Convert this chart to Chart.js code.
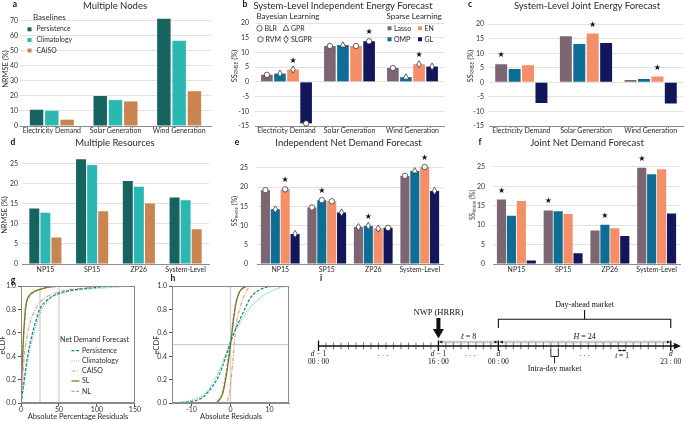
<!DOCTYPE html>
<html><head><meta charset="utf-8">
<script src="https://cdn.jsdelivr.net/npm/chart.js@4.4.1/dist/chart.umd.min.js"></script>
<style>
body{margin:0;width:685px;height:421px;background:#fff;position:relative;overflow:hidden;font-family:Lato,sans-serif;}
canvas{position:absolute;}
.t{position:absolute;white-space:nowrap;color:#2a2a2a;line-height:1;}
.t sub{font-size:62%;vertical-align:-0.25em;}
</style></head><body>
<script>
// ================= DATA =================
const energyCategories = ['Electricity Demand', 'Solar Generation', 'Wind Generation'];
const resourceCategories = ['NP15', 'SP15', 'ZP26', 'System-Level'];
const baselineNames = ['Persistence', 'Climatology', 'CAISO'];
const learnerNames = ['Lasso', 'OMP', 'EN', 'GL'];
const bayesNames = ['BLR', 'GPR', 'RVM', 'SLGPR'];
const bayesMarks = ['circle', 'triangle', 'hexagon', 'diamond'];

// a  Multiple Nodes (NRMSE %)
const nodesPersistence = [10.8, 19.9, 71.2];
const nodesClimatology = [10.1, 17.2, 56.6];
const nodesCAISO = [4.2, 16.3, 23.1];

// b  System-Level Independent Energy Forecast (SS %)
const indepEnergyLasso = [2.4, 12.2, 4.7];
const indepEnergyOMP = [2.8, 12.5, 1.6];
const indepEnergyEN = [4.2, 12.2, 6.0];
const indepEnergyGL = [-14.1, 13.8, 5.2];
const indepEnergyBest = [2, 3, 2];
const indepEnergyMarkLasso = ['circle', 'circle', 'circle'];
const indepEnergyMarkOMP = ['diamond', 'triangle', 'triangle'];
const indepEnergyMarkEN = ['diamond', 'circle', 'diamond'];
const indepEnergyMarkGL = ['circle', 'circle', 'diamond'];

// c  System-Level Joint Energy Forecast
const jointEnergyLasso = [6.2, 15.9, 0.8];
const jointEnergyOMP = [4.6, 13.2, 1.2];
const jointEnergyEN = [5.9, 16.8, 2.0];
const jointEnergyGL = [-7.1, 13.5, -7.3];
const jointEnergyBest = [0, 2, 2];

// d  Multiple Resources (NRMSE %)
const resPersistence = [13.8, 26.0, 20.6, 16.5];
const resClimatology = [12.7, 24.6, 19.2, 15.8];
const resCAISO = [6.6, 13.1, 15.0, 8.6];

// e  Independent Net Demand Forecast
const indepNetLasso = [19.2, 14.7, 9.6, 22.9];
const indepNetOMP = [14.2, 16.6, 9.9, 24.2];
const indepNetEN = [19.4, 16.3, 9.2, 25.2];
const indepNetGL = [7.8, 13.4, 9.4, 19.0];
const indepNetBest = [2, 1, 1, 2];
const indepNetMarkLasso = ['circle', 'circle', 'diamond', 'circle'];
const indepNetMarkOMP = ['diamond', 'circle', 'diamond', 'triangle'];
const indepNetMarkEN = ['circle', 'circle', 'diamond', 'circle'];
const indepNetMarkGL = ['diamond', 'diamond', 'circle', 'diamond'];

// f  Joint Net Demand Forecast
const jointNetLasso = [16.6, 13.8, 8.6, 24.8];
const jointNetOMP = [12.4, 13.6, 10.1, 23.1];
const jointNetEN = [16.2, 12.9, 9.2, 24.4];
const jointNetGL = [0.9, 2.8, 7.2, 13.0];
const jointNetBest = [0, 0, 1, 0];

// g  eCDF of absolute percentage residuals
const gTicksX = [0, 50, 100, 150];
const gPersistenceX = [0, 1, 2.2, 4.3, 6.3, 8.7, 11.5, 15.2, 19.5, 24.3, 31, 38, 46, 55.6, 70, 86, 100, 116, 150];
const gPersistenceY = [0, 0.04, 0.1, 0.2, 0.3, 0.4, 0.5, 0.6, 0.7, 0.8, 0.86, 0.9, 0.93, 0.95, 0.97, 0.98, 0.99, 1.0, 1.0];
const gClimatologyX = [0, 1.2, 2.6, 5, 7.3, 10, 13.2, 17, 21.5, 27, 34, 40, 49, 60, 78, 99, 120, 147, 150];
const gClimatologyY = [0, 0.04, 0.1, 0.2, 0.3, 0.4, 0.5, 0.6, 0.7, 0.8, 0.86, 0.9, 0.93, 0.95, 0.97, 0.98, 0.99, 1.0, 1.0];
const gCAISOX = [0, 0.6, 1.2, 2.2, 3.2, 4.3, 6.2, 8.7, 12.5, 18.7, 25, 31.7, 40, 49, 62, 77, 92, 110, 150];
const gCAISOY = [0, 0.05, 0.11, 0.2, 0.3, 0.4, 0.5, 0.6, 0.7, 0.8, 0.86, 0.9, 0.93, 0.95, 0.97, 0.98, 0.99, 1.0, 1.0];
const gSLX = [0, 0.4, 0.9, 1.5, 2.2, 2.8, 3.5, 4.5, 5.7, 7, 9, 12, 16.5, 24, 34, 60, 150];
const gSLY = [0, 0.1, 0.2, 0.3, 0.4, 0.5, 0.6, 0.7, 0.8, 0.86, 0.9, 0.93, 0.95, 0.97, 0.99, 1.0, 1.0];
const gNLX = [0, 0.45, 1.0, 1.7, 2.4, 3.1, 3.9, 5, 6.3, 7.8, 10, 13, 17.5, 25, 36, 65, 150];
const gNLY = [0, 0.1, 0.2, 0.3, 0.4, 0.5, 0.6, 0.7, 0.8, 0.86, 0.9, 0.93, 0.95, 0.97, 0.99, 1.0, 1.0];
const gRefLines = [25, 50];

// h  eCDF of absolute residuals
const hTicksX = [-10, 0, 10];
const hPersistenceX = [-15, -12, -9, -7, -5.6, -3.5, -2.2, -1.2, -0.2, 0.9, 2.2, 3.6, 5.1, 7, 9.7, 12, 15];
const hPersistenceY = [0, 0.005, 0.02, 0.05, 0.1, 0.2, 0.3, 0.4, 0.5, 0.6, 0.7, 0.8, 0.9, 0.96, 0.995, 1, 1];
const hClimatologyX = [-15, -12, -9.5, -7.3, -5.5, -4.1, -2.6, -1.4, -0.3, 1, 2.7, 4.6, 7.6, 10, 13.5, 15];
const hClimatologyY = [0, 0.01, 0.03, 0.06, 0.12, 0.2, 0.3, 0.4, 0.5, 0.6, 0.7, 0.8, 0.9, 0.95, 0.995, 1];
const hCAISOX = [-15, -1.5, -0.8, -0.2, 0.3, 0.7, 1.1, 1.6, 2.5, 3.5, 4.5, 6, 15];
const hCAISOY = [0, 0, 0.02, 0.1, 0.25, 0.4, 0.55, 0.7, 0.82, 0.92, 0.98, 1, 1];
const hSLX = [-15, -4, -3, -2, -1, -0.3, 0.2, 0.8, 1.5, 2.3, 3.5, 5, 15];
const hSLY = [0, 0, 0.02, 0.08, 0.25, 0.42, 0.55, 0.72, 0.87, 0.95, 0.99, 1, 1];
const hNLX = [-15, -4.2, -3.2, -2.2, -1.2, -0.5, 0, 0.6, 1.3, 2.1, 3.3, 5, 15];
const hNLY = [0, 0, 0.02, 0.08, 0.25, 0.42, 0.52, 0.7, 0.85, 0.94, 0.99, 1, 1];
const hRefX = 0;
const hRefY = 0.5;

// i  timeline (hours relative to day d 00:00)
const tlHours = [-24,-23,-22,-21,-20,-19,-18,-17,-16,-15,-14,-13,-12,-11,-10,-9,-8,-7,-6,-5,-4,-3,-2,-1,0,1,2,3,4,5,6,7,8,9,10,11,12,13,14,15,16,17,18,19,20,21,22,23];
const tlMajorHours = [-24, -8, 0, 23];
const tlMajorDay = [['d', ' − 1'], ['d', ' − 1'], ['d', ''], ['d', '']];
const tlMajorClock = ['00 : 00', '16 : 00', '00 : 00', '23 : 00'];
const tlDotHours = [-15.4, -3.8, 11.5];

// ================= STYLE =================
const C = {
  Persistence: '#16635f', Climatology: '#2cb8b2', CAISO: '#c9844f',
  Lasso: '#7c6671', OMP: '#0d6d94', EN: '#f48f68', GL: '#11175a'
};
const LC = { Persistence: '#1d7f7a', Climatology: '#4dcfcf', CAISO: '#eb9e78', SL: '#7b7a1c', NL: '#a9a9a9' };
const FONT = 'Lato';
const SERIF = '"Liberation Serif", "DejaVu Serif", serif';

function T(html, x, y, o = {}) {
  const d = document.createElement('div');
  d.className = 't'; d.innerHTML = html;
  d.style.left = x + 'px'; d.style.top = y + 'px';
  d.style.fontSize = (o.size || 8) + 'px';
  if (o.weight) d.style.fontWeight = o.weight;
  if (o.color) d.style.color = o.color;
  const ax = o.anchor === 'l' ? '0' : '-50%';
  d.style.transform = `translate(${ax},-50%)` + (o.rot ? ` rotate(${o.rot}deg)` : '');
  document.body.appendChild(d);
}

function makeCanvas(L, Tp, W, H) {
  const c = document.createElement('canvas');
  c.width = W; c.height = H;
  c.style.left = L + 'px'; c.style.top = Tp + 'px';
  c.style.width = W + 'px'; c.style.height = H + 'px';
  document.body.appendChild(c);
  return c;
}

function drawMarker(ctx, type, x, y) {
  ctx.save();
  ctx.fillStyle = '#ffffff'; ctx.strokeStyle = '#3a3a3a'; ctx.lineWidth = 0.8;
  ctx.beginPath();
  if (type === 'circle') ctx.arc(x, y, 2.7, 0, Math.PI * 2);
  else if (type === 'triangle') { ctx.moveTo(x, y - 3.3); ctx.lineTo(x + 3, y + 2); ctx.lineTo(x - 3, y + 2); ctx.closePath(); }
  else if (type === 'diamond') { ctx.moveTo(x, y - 3.6); ctx.lineTo(x + 2.2, y); ctx.lineTo(x, y + 3.6); ctx.lineTo(x - 2.2, y); ctx.closePath(); }
  else if (type === 'hexagon') { for (let k = 0; k < 6; k++) { const a = Math.PI / 6 + k * Math.PI / 3; const px = x + 2.9 * Math.cos(a), py = y + 2.9 * Math.sin(a); k ? ctx.lineTo(px, py) : ctx.moveTo(px, py); } ctx.closePath(); }
  ctx.fill(); ctx.stroke(); ctx.restore();
}

function legendText(ctx, text, x, y, size, align) {
  ctx.font = `${size}px ${FONT}`; ctx.fillStyle = '#2a2a2a';
  ctx.textAlign = align || 'left'; ctx.textBaseline = 'middle';
  ctx.fillText(text, x, y);
}

function barChart(cfg) {
  const { plot, yW, xH, pad } = cfg;
  const L = Math.round(plot.l - yW - pad), Tp = Math.round(plot.t - pad);
  const W = Math.round(plot.r - plot.l + yW + 2 * pad), H = Math.round(plot.b - plot.t + xH + 2 * pad);
  const cv = makeCanvas(L, Tp, W, H);
  const overlay = {
    id: 'overlay',
    afterDatasetsDraw(chart) {
      const ctx = chart.ctx;
      chart.data.datasets.forEach((ds, di) => {
        if (!ds.marks) return;
        chart.getDatasetMeta(di).data.forEach((bar, i) => drawMarker(ctx, ds.marks[i], bar.x, bar.y));
      });
      if (cfg.best) {
        ctx.save();
        ctx.fillStyle = '#111'; ctx.font = '8px "DejaVu Sans"'; ctx.textAlign = 'center'; ctx.textBaseline = 'middle';
        cfg.best.forEach((di, i) => {
          const bar = chart.getDatasetMeta(di).data[i];
          const top = Math.min(bar.y, bar.base);
          ctx.fillText('★', bar.x, top - 9);
        });
        ctx.restore();
      }
      const xs = chart.scales.x;
      ctx.save();
      chart.data.labels.forEach((lab, i) => legendText(ctx, lab, xs.getPixelForValue(i), cfg.labelY - Tp, cfg.xFont || 7, 'center'));
      ctx.restore();
      if (cfg.legend) cfg.legend(ctx, (x) => x - L, (y) => y - Tp);
    }
  };
  new Chart(cv, {
    type: 'bar',
    data: {
      labels: cfg.labels,
      datasets: cfg.series.map(s => ({
        label: s.name, data: s.data, backgroundColor: C[s.name], borderWidth: 0,
        categoryPercentage: cfg.catPct, barPercentage: cfg.barPct, marks: s.marks
      }))
    },
    options: {
      responsive: false, animation: false, devicePixelRatio: 1,
      layout: { padding: pad },
      plugins: { legend: { display: false }, tooltip: { enabled: false } },
      scales: {
        x: {
          grid: { display: false, drawTicks: false },
          border: { display: true, color: '#8c8c8c', width: 1 },
          ticks: { display: false },
          afterFit: s => { s.height = xH; }
        },
        y: {
          min: cfg.min, max: cfg.max,
          grid: { color: '#e2e2e2', lineWidth: 1, drawTicks: false },
          border: { display: false },
          ticks: { stepSize: cfg.step, includeBounds: false, font: { family: FONT, size: 7 }, color: '#333', padding: cfg.yPad },
          afterFit: s => { s.width = yW; }
        }
      }
    },
    plugins: [overlay]
  });
}

// ---------- a ----------
barChart({
  plot: { l: 20, r: 211, t: 13, b: 126 }, yW: 18, xH: 14, pad: 8, yPad: 2, labelY: 131,
  labels: energyCategories, min: 0, max: 75, step: 10, catPct: 0.72, barPct: 0.88,
  series: [
    { name: 'Persistence', data: nodesPersistence },
    { name: 'Climatology', data: nodesClimatology },
    { name: 'CAISO', data: nodesCAISO }
  ],
  legend: (ctx, X, Y) => {
    legendText(ctx, 'Baselines', X(33), Y(17), 8);
    const ys = [29.3, 40, 50.5];
    baselineNames.forEach((n, i) => {
      ctx.fillStyle = C[n]; ctx.fillRect(X(27.5), Y(ys[i]) - 2, 4, 4);
      legendText(ctx, n, X(36.5), Y(ys[i]), 6.8);
    });
  }
});

// ---------- b ----------
barChart({
  plot: { l: 255, r: 444, t: 23, b: 126 }, yW: 20, xH: 14, pad: 14, yPad: 6, labelY: 131,
  labels: energyCategories, min: -15, max: 20, step: 5, catPct: 0.83, barPct: 0.89,
  series: [
    { name: 'Lasso', data: indepEnergyLasso, marks: indepEnergyMarkLasso },
    { name: 'OMP', data: indepEnergyOMP, marks: indepEnergyMarkOMP },
    { name: 'EN', data: indepEnergyEN, marks: indepEnergyMarkEN },
    { name: 'GL', data: indepEnergyGL, marks: indepEnergyMarkGL }
  ],
  best: indepEnergyBest,
  legend: (ctx, X, Y) => {
    legendText(ctx, 'Bayesian Learning', X(256.5), Y(16.7), 8);
    legendText(ctx, 'Sparse Learning', X(386.5), Y(16.7), 8);
    const pos = [[259.5, 28.3], [286, 28.3], [260.5, 39.3], [286, 39.3]];
    bayesNames.forEach((n, i) => {
      drawMarker(ctx, bayesMarks[i], X(pos[i][0]), Y(pos[i][1]));
      legendText(ctx, n, X(pos[i][0] + 5), Y(pos[i][1]), 7);
    });
    const sp = [[389.5, 28.3], [389.5, 39.3], [420, 28.3], [420, 39.3]];
    learnerNames.forEach((n, i) => {
      ctx.fillStyle = C[n]; ctx.fillRect(X(sp[i][0]) - 2, Y(sp[i][1]) - 2, 4, 4);
      legendText(ctx, n, X(sp[i][0] + 4.5), Y(sp[i][1]), 7);
    });
  }
});

// ---------- c ----------
barChart({
  plot: { l: 489, r: 683, t: 23, b: 126 }, yW: 20, xH: 14, pad: 8, yPad: 5, labelY: 131,
  labels: energyCategories, min: -15, max: 20, step: 5, catPct: 0.83, barPct: 0.89,
  series: [
    { name: 'Lasso', data: jointEnergyLasso },
    { name: 'OMP', data: jointEnergyOMP },
    { name: 'EN', data: jointEnergyEN },
    { name: 'GL', data: jointEnergyGL }
  ],
  best: jointEnergyBest
});

// ---------- d ----------
barChart({
  plot: { l: 22, r: 209, t: 153, b: 264 }, yW: 18, xH: 14, pad: 8, yPad: 4, labelY: 269.5,
  labels: resourceCategories, min: 0, max: 27.5, step: 5, catPct: 0.71, barPct: 0.9,
  series: [
    { name: 'Persistence', data: resPersistence },
    { name: 'Climatology', data: resClimatology },
    { name: 'CAISO', data: resCAISO }
  ]
});

// ---------- e ----------
barChart({
  plot: { l: 257, r: 443, t: 153, b: 264 }, yW: 20, xH: 14, pad: 8, yPad: 9, labelY: 269.5,
  labels: resourceCategories, min: 0, max: 27.5, step: 5, catPct: 0.85, barPct: 0.92,
  series: [
    { name: 'Lasso', data: indepNetLasso, marks: indepNetMarkLasso },
    { name: 'OMP', data: indepNetOMP, marks: indepNetMarkOMP },
    { name: 'EN', data: indepNetEN, marks: indepNetMarkEN },
    { name: 'GL', data: indepNetGL, marks: indepNetMarkGL }
  ],
  best: indepNetBest
});

// ---------- f ----------
barChart({
  plot: { l: 493, r: 680, t: 153, b: 264 }, yW: 20, xH: 14, pad: 8, yPad: 8, labelY: 269.5,
  labels: resourceCategories, min: 0, max: 27.5, step: 5, catPct: 0.85, barPct: 0.92,
  series: [
    { name: 'Lasso', data: jointNetLasso },
    { name: 'OMP', data: jointNetOMP },
    { name: 'EN', data: jointNetEN },
    { name: 'GL', data: jointNetGL }
  ],
  best: jointNetBest
});

// ---------- g / h eCDF ----------
function curve(label, xs, ys, color, dash, width) {
  return {
    label, data: xs.map((x, i) => ({ x, y: ys[i] })), borderColor: color, borderDash: dash,
    borderWidth: width, showLine: true, pointRadius: 0, fill: false, cubicInterpolationMode: 'monotone'
  };
}
function refLine(pts) {
  return { label: 'ref', ref: true, data: pts, borderColor: '#cfcfcf', borderWidth: 1.3, showLine: true, pointRadius: 0, fill: false, tension: 0 };
}
function ecdfChart(cfg) {
  const { plot, yW, xH, pad } = cfg;
  const L = Math.round(plot.l - yW - pad), Tp = Math.round(plot.t - pad);
  const W = Math.round(plot.r - plot.l + yW + 2 * pad), H = Math.round(plot.b - plot.t + xH + 2 * pad);
  const cv = makeCanvas(L, Tp, W, H);
  const overlay = {
    id: 'ecdfOverlay',
    afterDatasetsDraw(chart) {
      const ctx = chart.ctx, a = chart.chartArea;
      ctx.save();
      ctx.strokeStyle = '#8a8a8a'; ctx.lineWidth = 1;
      ctx.strokeRect(Math.round(a.left) + 0.5, Math.round(a.top) + 0.5, Math.round(a.right - a.left) - 1, Math.round(a.bottom - a.top) - 1);
      if (cfg.legend) {
        const X = x => x - L, Y = y => y - Tp;
        legendText(ctx, 'Net Demand Forecast', X(94.5), Y(340), 7.2, 'center');
        const ys = [350.7, 361, 371, 381, 391.3];
        chart.data.datasets.filter(d => !d.ref).forEach((d, i) => {
          ctx.beginPath(); ctx.strokeStyle = d.borderColor; ctx.lineWidth = d.borderWidth;
          ctx.setLineDash(d.borderDash || []);
          ctx.moveTo(X(71.5), Y(ys[i])); ctx.lineTo(X(79.5), Y(ys[i])); ctx.stroke();
          ctx.setLineDash([]);
          legendText(ctx, d.label, X(82), Y(ys[i]), 7);
        });
      }
      ctx.restore();
    }
  };
  new Chart(cv, {
    type: 'scatter',
    data: { datasets: cfg.datasets },
    options: {
      responsive: false, animation: false, devicePixelRatio: 1,
      layout: { padding: pad },
      plugins: { legend: { display: false }, tooltip: { enabled: false } },
      scales: {
        x: {
          type: 'linear', min: cfg.xmin, max: cfg.xmax,
          grid: { drawOnChartArea: false, tickLength: 3, color: '#555' },
          border: { display: true, color: '#8a8a8a' },
          ticks: { font: { family: FONT, size: 7 }, color: '#333', padding: 0 },
          afterBuildTicks: s => { s.ticks = cfg.xticks.map(v => ({ value: v })); },
          afterFit: s => { s.height = xH; }
        },
        y: {
          min: 0, max: 1,
          grid: { drawOnChartArea: false, tickLength: 3, color: '#555' },
          border: { display: true, color: '#8a8a8a' },
          ticks: { stepSize: 0.2, font: { family: FONT, size: 7 }, color: '#333', padding: cfg.yPad, callback: v => v.toFixed(1) },
          afterFit: s => { s.width = yW; }
        }
      }
    },
    plugins: [overlay]
  });
}

ecdfChart({
  plot: { l: 21, r: 135, t: 286, b: 403 }, yW: 16, xH: 10, pad: 6, yPad: 2,
  xmin: 0, xmax: 150, xticks: gTicksX, legend: true,
  datasets: [
    curve('Persistence', gPersistenceX, gPersistenceY, LC.Persistence, [3, 1.6], 1.2),
    curve('Climatology', gClimatologyX, gClimatologyY, LC.Climatology, [1, 1.3], 1.2),
    curve('CAISO', gCAISOX, gCAISOY, LC.CAISO, [4, 1.5, 1, 1.5], 1.2),
    curve('SL', gSLX, gSLY, LC.SL, [], 1.3),
    curve('NL', gNLX, gNLY, LC.NL, [3, 1.6], 1.2),
    refLine([{ x: gRefLines[0], y: 0 }, { x: gRefLines[0], y: 1 }]),
    refLine([{ x: gRefLines[1], y: 0 }, { x: gRefLines[1], y: 1 }])
  ]
});

ecdfChart({
  plot: { l: 172, r: 288.5, t: 286, b: 403 }, yW: 16, xH: 10, pad: 6, yPad: 2,
  xmin: -15, xmax: 15, xticks: hTicksX, legend: false,
  datasets: [
    curve('Persistence', hPersistenceX, hPersistenceY, LC.Persistence, [3, 1.6], 1.2),
    curve('Climatology', hClimatologyX, hClimatologyY, LC.Climatology, [1, 1.3], 1.2),
    curve('CAISO', hCAISOX, hCAISOY, LC.CAISO, [4, 1.5, 1, 1.5], 1.2),
    curve('SL', hSLX, hSLY, LC.SL, [], 1.3),
    curve('NL', hNLX, hNLY, LC.NL, [3, 1.6], 1.2),
    refLine([{ x: hRefX, y: 0 }, { x: hRefX, y: 1 }]),
    refLine([{ x: -15, y: hRefY }, { x: 15, y: hRefY }])
  ]
});

// ---------- i timeline ----------
(function () {
  const L = 300, Tp = 295, W = 385, H = 85;
  const cv = makeCanvas(L, Tp, W, H);
  function rich(ctx, parts, cx, cy, size) {
    let w = 0;
    parts.forEach(p => { ctx.font = `${p[1] ? 'italic ' : ''}${size}px ${SERIF}`; w += ctx.measureText(p[0]).width; });
    let x = cx - w / 2;
    ctx.textBaseline = 'middle'; ctx.textAlign = 'left'; ctx.fillStyle = '#111';
    parts.forEach(p => { ctx.font = `${p[1] ? 'italic ' : ''}${size}px ${SERIF}`; ctx.fillText(p[0], x, cy); x += ctx.measureText(p[0]).width; });
  }
  function head(ctx, x, y, dir, len, hw) {
    ctx.beginPath(); ctx.moveTo(x, y); ctx.lineTo(x - dir * len, y - hw); ctx.lineTo(x - dir * len, y + hw); ctx.closePath(); ctx.fill();
  }
  const tl = {
    id: 'timeline',
    afterDraw(chart) {
      const ctx = chart.ctx;
      const X = v => chart.scales.x.getPixelForValue(v), Y = v => chart.scales.y.getPixelForValue(v);
      ctx.save();
      ctx.strokeStyle = '#c9c9c9'; ctx.lineWidth = 2.6;
      ctx.beginPath(); ctx.moveTo(X(-8), Y(342)); ctx.lineTo(X(23), Y(342)); ctx.stroke();
      ctx.strokeStyle = '#555'; ctx.lineWidth = 0.8;
      tlHours.forEach(h => { ctx.beginPath(); ctx.moveTo(X(h), Y(342.5)); ctx.lineTo(X(h), Y(349.5)); ctx.stroke(); });
      ctx.strokeStyle = '#111'; ctx.fillStyle = '#111'; ctx.lineWidth = 1.6;
      ctx.beginPath(); ctx.moveTo(X(-24), Y(346)); ctx.lineTo(X(23.6), Y(346)); ctx.stroke();
      head(ctx, X(24.35), Y(346), 1, 7, 3.2);
      ctx.lineWidth = 1.3;
      tlMajorHours.forEach((h, i) => {
        ctx.beginPath(); ctx.moveTo(X(h), Y(340.5)); ctx.lineTo(X(h), Y(351)); ctx.stroke();
        rich(ctx, [[tlMajorDay[i][0], true], [tlMajorDay[i][1], false]], X(h), Y(354), 7.5);
        rich(ctx, [[tlMajorClock[i], false]], X(h), Y(362.3), 7.5);
      });
      tlDotHours.forEach(h => rich(ctx, [['· · ·', false]], X(h), Y(356.5), 7.5));
      ctx.fillStyle = '#111';
      head(ctx, X(-8) + 0.8, Y(342), -1, 3, 1.6); head(ctx, X(0) - 0.8, Y(342), 1, 3, 1.6);
      head(ctx, X(0) + 1.5, Y(342), -1, 3, 1.6); head(ctx, X(23) - 0.8, Y(342), 1, 3, 1.6);
      rich(ctx, [['ℓ', true], [' = 8', false]], X(-4), Y(336.5), 8);
      rich(ctx, [['H', true], [' = 24', false]], X(11.5), Y(336.5), 8);
      rich(ctx, [['NWP (HRRR)', false]], X(-8), Y(312.5), 8.5);
      ctx.fillRect(X(-8) - 2, Y(318), 4, Y(330) - Y(318));
      ctx.beginPath(); ctx.moveTo(X(-8) - 5.5, Y(329)); ctx.lineTo(X(-8) + 5.5, Y(329)); ctx.lineTo(X(-8), Y(338.5)); ctx.closePath(); ctx.fill();
      ctx.lineWidth = 1.1; ctx.strokeStyle = '#111';
      ctx.beginPath(); ctx.moveTo(X(0), Y(328)); ctx.lineTo(X(0), Y(319.3)); ctx.lineTo(X(23), Y(319.3)); ctx.lineTo(X(23), Y(328)); ctx.stroke();
      ctx.beginPath(); ctx.moveTo(X(11.5), Y(319.3)); ctx.lineTo(X(11.5), Y(310)); ctx.stroke();
      rich(ctx, [['Day-ahead market', false]], X(11.5), Y(304.5), 8);
      ctx.lineWidth = 0.9;
      ctx.beginPath(); ctx.moveTo(X(7), Y(349)); ctx.lineTo(X(7), Y(356.5)); ctx.lineTo(X(8), Y(356.5)); ctx.lineTo(X(8), Y(349)); ctx.stroke();
      ctx.beginPath(); ctx.moveTo(X(7.5), Y(356.5)); ctx.lineTo(X(7.5), Y(363.5)); ctx.stroke();
      rich(ctx, [['Intra-day market', false]], X(7.5), Y(369), 8);
      ctx.lineWidth = 0.8;
      ctx.beginPath(); ctx.moveTo(X(16), Y(350.5)); ctx.lineTo(X(17), Y(350.5)); ctx.stroke();
      head(ctx, X(16), Y(350.5), -1, 2.2, 1.2); head(ctx, X(17), Y(350.5), 1, 2.2, 1.2);
      rich(ctx, [['t', true], [' = 1', false]], X(16.5), Y(356.5), 7.5);
      ctx.restore();
    }
  };
  new Chart(cv, {
    type: 'scatter',
    data: { datasets: [] },
    options: {
      responsive: false, animation: false, devicePixelRatio: 1,
      layout: { padding: 0 },
      plugins: { legend: { display: false }, tooltip: { enabled: false } },
      scales: {
        x: { type: 'linear', display: false, min: -26.47, max: 24.9 },
        y: { type: 'linear', display: false, min: 295, max: 380, reverse: true }
      }
    },
    plugins: [tl]
  });
})();

// ---------- HTML text: panel letters, titles, axis titles ----------
const letters = [['a', 15, 4], ['b', 245, 4], ['c', 470, 4], ['d', 13, 142], ['e', 237, 142], ['f', 480, 142], ['g', 13, 280], ['h', 173, 278], ['i', 321, 278]];
letters.forEach(l => T(l[0], l[1], l[2], { size: 8.5, weight: 700, color: '#111' }));
T('Multiple Nodes', 115, 5.5, { size: 9.5 });
T('System-Level Independent Energy Forecast', 343, 5.5, { size: 9.5 });
T('System-Level Joint Energy Forecast', 587, 5.5, { size: 9.5 });
T('Multiple Resources', 115, 143, { size: 9.5 });
T('Independent Net Demand Forecast', 348.5, 143, { size: 9.5 });
T('Joint Net Demand Forecast', 587, 143, { size: 9.5 });
T('NRMSE (%)', 6, 69, { size: 7.5, rot: -90 });
T('SS<sub>RMSE</sub> (%)', 235, 66, { size: 7.5, rot: -90 });
T('SS<sub>RMSE</sub> (%)', 471, 66, { size: 7.5, rot: -90 });
T('NRMSE (%)', 5, 215, { size: 7.5, rot: -90 });
T('SS<sub>RMSE</sub> (%)', 235, 211, { size: 7, rot: -90 });
T('SS<sub>RMSE</sub> (%)', 473, 205, { size: 7, rot: -90 });
T('eCDF', 2.5, 345, { size: 7.5, rot: -90 });
T('eCDF', 157, 345, { size: 7.5, rot: -90 });
T('Absolute Percentage Residuals', 78, 416.5, { size: 7.5 });
T('Absolute Residuals', 231, 416.5, { size: 7.5 });
</script>
</body></html>
